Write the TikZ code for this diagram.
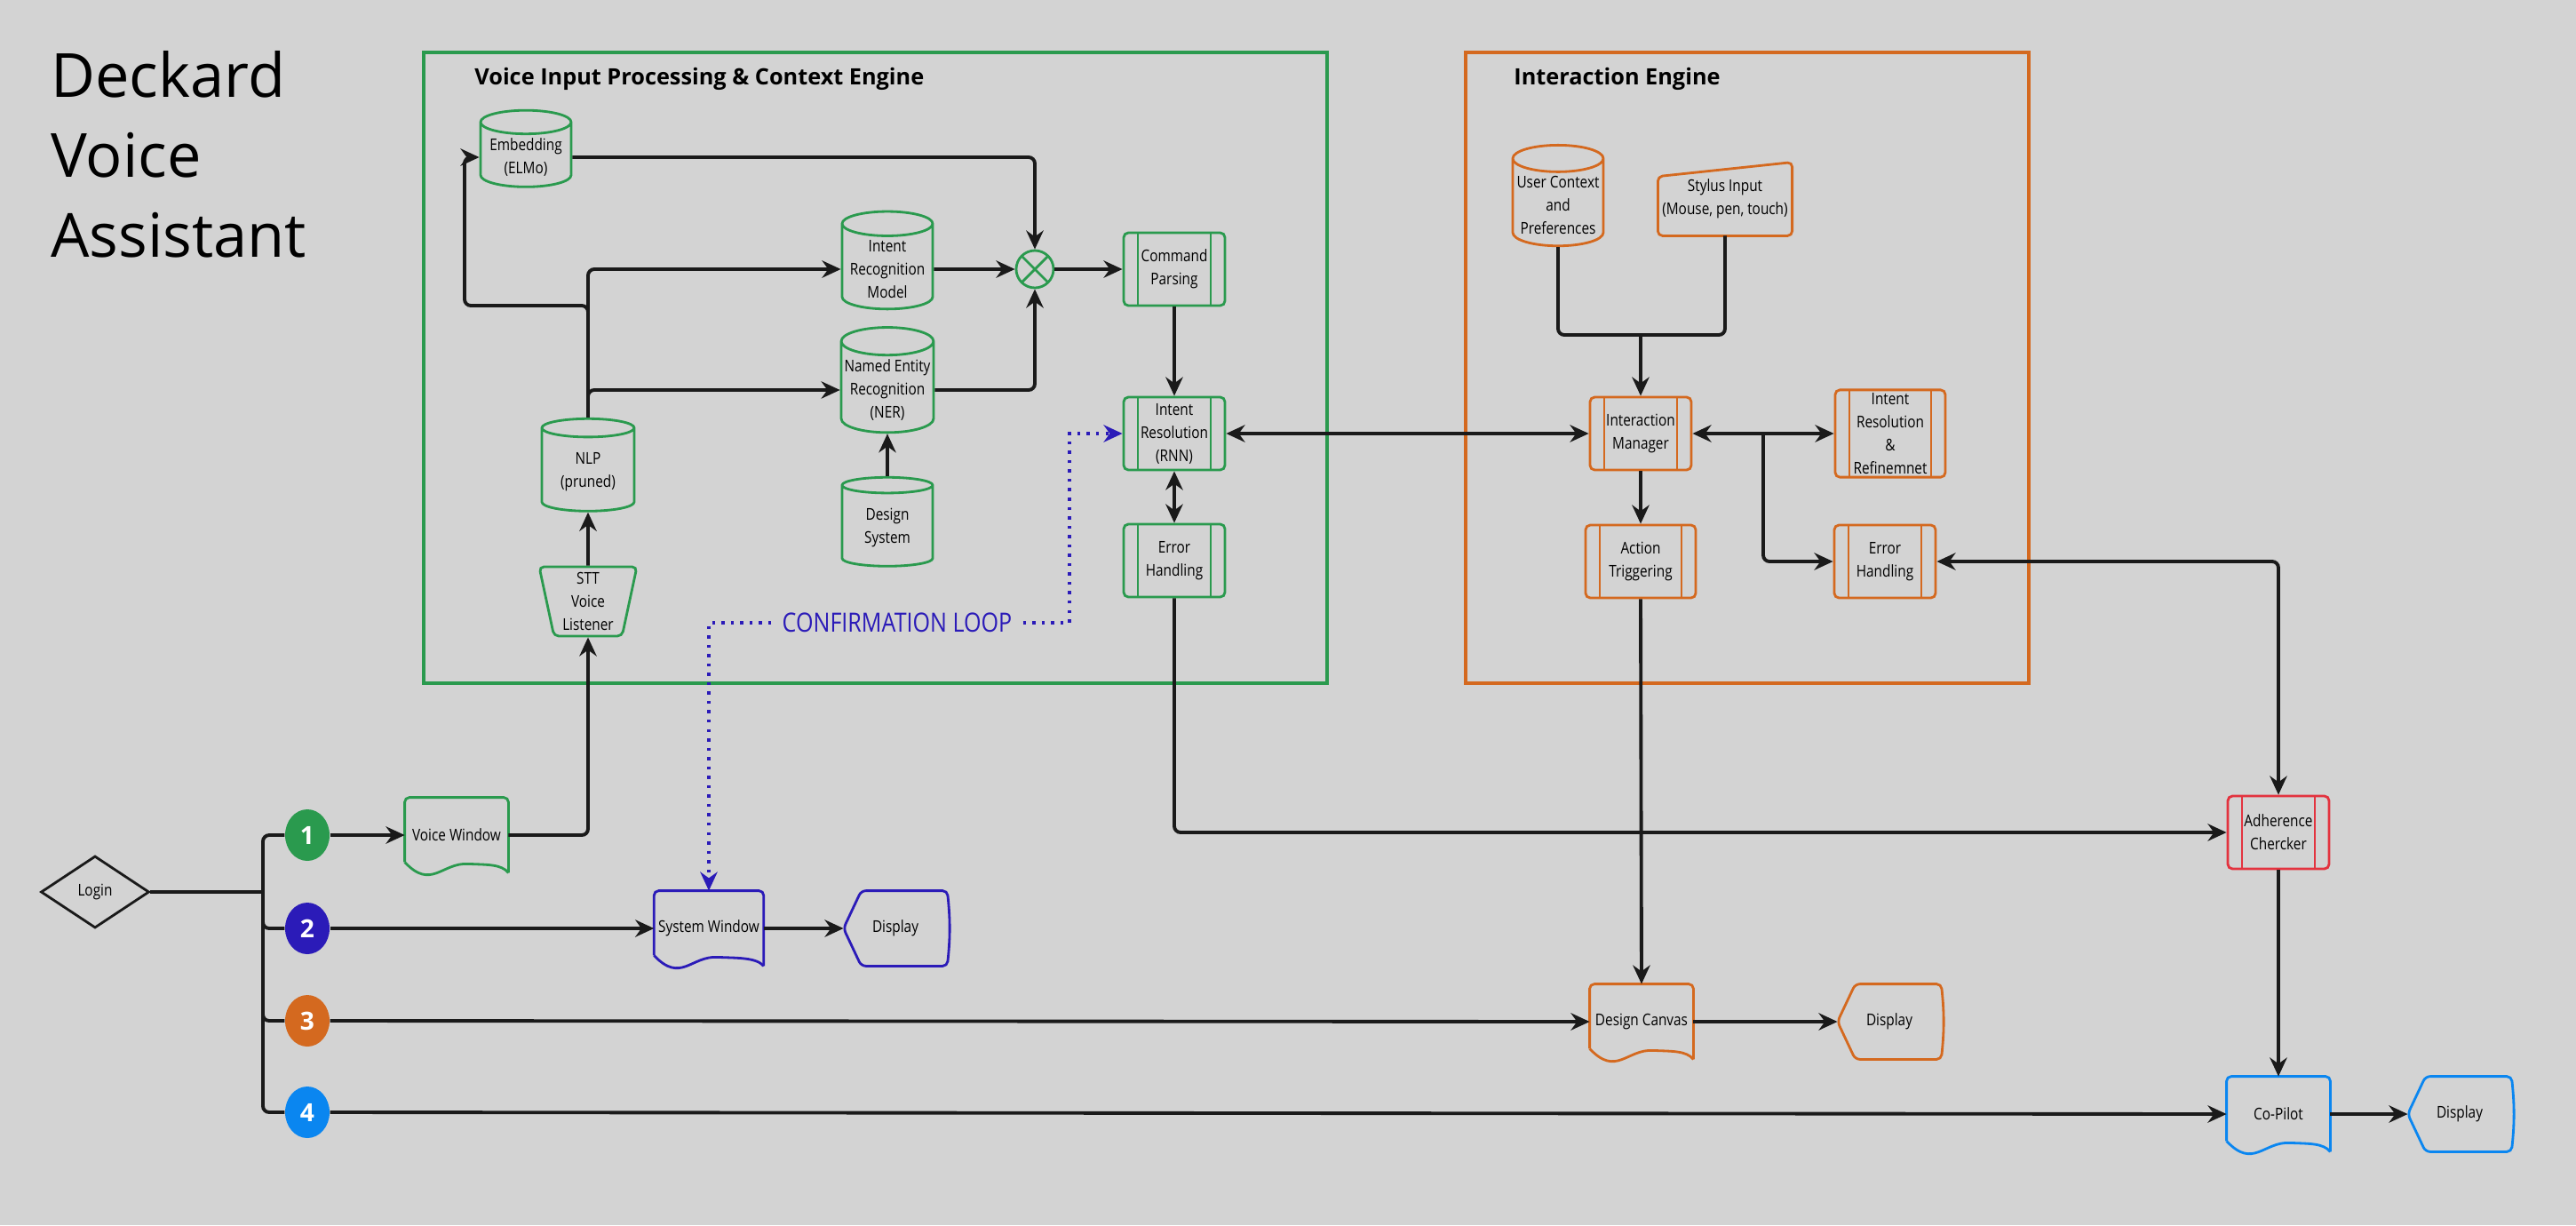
\documentclass[tikz,border=0pt]{standalone}
\usepackage{fontspec}
\setmainfont{Open Sans}
\newfontfamily\cond[FakeStretch=0.84]{Open Sans}
\usetikzlibrary{shapes.geometric,arrows.meta,calc}
\definecolor{bgc}{HTML}{D3D3D3}
\definecolor{grn}{HTML}{2A9A4E}
\definecolor{org}{HTML}{D4691F}
\definecolor{prp}{HTML}{2B1BB8}
\definecolor{lbl}{HTML}{0A86F0}
\definecolor{rd}{HTML}{E3333F}
\definecolor{linec}{HTML}{1A1A1A}
\tikzset{
  base/.style={font=\cond\fontsize{5.2}{7.4}\selectfont, align=center, line width=0.8pt, inner sep=1pt},
  db/.style={base, cylinder, shape border rotate=90, aspect=0.3, draw=#1,
    minimum width=1.02cm, minimum height=0.82cm},
  proc/.style={base, rectangle, rounded corners=1.5pt, draw=#1,
    minimum width=1.14cm, minimum height=0.82cm,
    path picture={\draw[#1, line width=0.8pt]
      ([xshift=0.16cm]path picture bounding box.north west) -- ([xshift=0.16cm]path picture bounding box.south west)
      ([xshift=-0.16cm]path picture bounding box.north east) -- ([xshift=-0.16cm]path picture bounding box.south east);}},
  doc/.style={base, minimum width=1.14cm, minimum height=0.82cm},
  num/.style={ellipse, fill=#1, minimum width=0.5cm, minimum height=0.58cm, inner sep=0pt,
    text=white, font=\fontsize{8}{9}\bfseries},
  line/.style={line width=1.1pt, draw=linec, rounded corners=2pt},
  conn/.style={line, -{Stealth[length=6pt,width=5.5pt]}},
  conn2/.style={line, {Stealth[length=6pt,width=5.5pt]}-{Stealth[length=6pt,width=5.5pt]}},
  head/.style={font=\fontsize{7.2}{9}\bfseries, anchor=west},
}
\newcommand{\docshape}[2]{%
  \draw[#2, line width=0.8pt, rounded corners=1.5pt] (#1.south east) -- (#1.north east) -- (#1.north west)
    -- ([yshift=0.12cm]#1.south west);
  \draw[#2, line width=0.8pt] ([yshift=0.12cm]#1.south west) .. controls +(0.3,-0.32) and +(-0.3,0.02)
    .. ([xshift=0.72cm,yshift=0.1cm]#1.south west) .. controls +(0.2,-0.01) and +(-0.08,0.1) .. (#1.south east);}
\newcommand{\dispshape}[2]{%
  \draw[#2, line width=0.8pt, rounded corners=1.5pt] ([xshift=0.2cm]#1.north west) -- (#1.north east)
    to[bend left=6] (#1.south east) -- ([xshift=0.2cm]#1.south west) -- (#1.west) -- cycle;}
\begin{document}
\begin{tikzpicture}
  \fill[bgc] (0,0) rectangle (29,-13.79);
  %% Title
  \node[anchor=west, align=left, font=\fontsize{19.5}{25.6}\selectfont] at (0.45,-1.74) {Deckard\\Voice\\Assistant};
  %% Frames
  \draw[grn, line width=0.9pt] (4.77,-0.59) rectangle (14.94,-7.69);
  \node[head] at (5.22,-0.89) {Voice Input Processing \& Context Engine};
  \draw[org, line width=0.9pt] (16.50,-0.59) rectangle (22.84,-7.69);
  \node[head] at (16.92,-0.89) {Interaction Engine};
  %% Voice engine
  \node[db=grn, minimum height=0.8cm] (emb) at (5.92,-1.77) {Embedding\\(ELMo)};
  \node[db=grn] (irm) at (9.99,-3.03) {Intent\\Recognition\\Model};
  \node[db=grn, minimum height=1.0cm] (ner) at (9.99,-4.39) {Named Entity\\Recognition\\(NER)};
  \node[db=grn, minimum height=1.0cm] (dsys) at (9.99,-5.94) {Design\\System};
  \node[db=grn, minimum width=1.04cm, minimum height=1.04cm] (nlp) at (6.62,-5.31) {NLP\\(pruned)};
  \node[base, trapezium, trapezium angle=79, trapezium stretches=true, shape border rotate=180,
    draw=grn, rounded corners=1.5pt, minimum width=1.1cm, minimum height=0.78cm] (stt) at (6.62,-6.77) {STT\\Voice\\Listener};
  \node[circle, draw=grn, line width=0.8pt, minimum size=0.42cm,
    path picture={\draw[grn, line width=0.8pt] (path picture bounding box.north west) -- (path picture bounding box.south east)
      (path picture bounding box.north east) -- (path picture bounding box.south west);}] (sum) at (11.65,-3.03) {};
  \node[proc=grn] (cmd) at (13.22,-3.03) {Command\\Parsing};
  \node[proc=grn] (irnn) at (13.22,-4.88) {Intent\\Resolution\\(RNN)};
  \node[proc=grn] (errg) at (13.22,-6.31) {Error\\Handling};
  \node[text=prp, font=\cond\fontsize{8.5}{9}\selectfont] (conf) at (10.10,-7.01) {CONFIRMATION LOOP};
  %% Interaction engine
  \node[db=org, minimum height=0.98cm] (ucp) at (17.54,-2.31) {User Context\\and\\Preferences};
  \node[base, minimum width=1.35cm, minimum height=0.8cm] (sty) at (19.42,-2.24) {Stylus Input\\(Mouse, pen, touch)};
  \draw[org, line width=0.8pt, rounded corners=1.5pt] (sty.south west) -- (sty.south east) -- (sty.north east)
    -- ([yshift=-0.16cm]sty.north west) -- cycle;
  \node[proc=org] (im) at (18.47,-4.88) {Interaction\\Manager};
  \node[proc=org, minimum width=1.24cm] (act) at (18.47,-6.32) {Action\\Triggering};
  \node[proc=org, minimum width=1.24cm] (irr) at (21.28,-4.88) {Intent\\Resolution\\\&\\Refinemnet};
  \node[proc=org] (erro) at (21.22,-6.32) {Error\\Handling};
  \node[proc=rd] (adh) at (25.65,-9.37) {Adherence\\Chercker};
  %% Bottom flows
  \node[base, diamond, draw=linec, aspect=1.5, minimum width=1.22cm, minimum height=0.81cm, inner sep=0pt] (login) at (1.07,-10.04) {Login};
  \node[num=grn] (c1) at (3.46,-9.40) {1};
  \node[num=prp] (c2) at (3.46,-10.45) {2};
  \node[num=org] (c3) at (3.46,-11.49) {3};
  \node[num=lbl] (c4) at (3.46,-12.52) {4};
  \node[doc] (vw) at (5.14,-9.40) {Voice Window};
  \node[doc, minimum width=1.16cm] (sw) at (7.98,-10.45) {System Window};
  \node[doc] (d2) at (10.08,-10.45) {Display};
  \node[doc] (dc) at (18.48,-11.50) {Design Canvas};
  \node[doc] (d3) at (21.27,-11.50) {Display};
  \node[doc] (cop) at (25.65,-12.54) {Co-Pilot};
  \node[doc] (d4) at (27.69,-12.54) {Display};
  \docshape{vw}{grn} \docshape{sw}{prp} \docshape{dc}{org} \docshape{cop}{lbl}
  \dispshape{d2}{prp} \dispshape{d3}{org} \dispshape{d4}{lbl}
  %% Connectors
  \coordinate (embk) at (5.23,-3.44);
  \coordinate (uj) at (18.47,-3.77);
  \coordinate (ij) at (19.85,-4.88);
  \coordinate (br) at (2.96,-10.04);
  \coordinate (lk) at (12.04,-7.01);
  \draw[conn] (vw.east) -| (stt.south);
  \draw[conn] (stt.north) -- (nlp.south);
  \draw[conn] (nlp.north) |- (irm.west);
  \draw[conn] (nlp.north) |- (ner.west);
  \draw[conn] (nlp.north) |- (embk) |- (emb.west);
  \draw[conn] (dsys.north) -- (ner.south);
  \draw[conn] (emb.east) -| (sum.north);
  \draw[conn] (irm.east) -- (sum.west);
  \draw[conn] (ner.east) -| (sum.south);
  \draw[conn] (sum.east) -- (cmd.west);
  \draw[conn] (cmd.south) -- (irnn.north);
  \draw[conn2] (irnn.south) -- (errg.north);
  \draw[conn2] (irnn.east) -- (im.west);
  \draw[line] (ucp.south) |- (uj);
  \draw[line] (sty.south) |- (uj);
  \draw[conn] (uj) -- (im.north);
  \draw[conn] (im.south) -- (act.north);
  \draw[conn2] (im.east) -- (irr.west);
  \draw[conn] (ij) |- (erro.west);
  \draw[conn2] (erro.east) -| (adh.north);
  \draw[conn] (errg.south) |- (adh.west);
  \draw[conn] (act.south) -- (dc.north);
  \draw[conn] (adh.south) -- (cop.north);
  \draw[line] (login.east) -- (br);
  \draw[line] (c1.west) -| (br) |- (c4.west);
  \draw[line] (br) |- (c2.west);
  \draw[line] (br) |- (c3.west);
  \draw[conn] (c1.east) -- (vw.west);
  \draw[conn] (c2.east) -- (sw.west);
  \draw[conn] (c3.east) -- (dc.west);
  \draw[conn] (c4.east) -- (cop.west);
  \draw[conn] (sw.east) -- (d2.west);
  \draw[conn] (dc.east) -- (d3.west);
  \draw[conn] (cop.east) -- (d4.west);
  \draw[prp, line width=1pt, dotted, -{Stealth[length=6pt,width=5.5pt]}] (conf.west) -| (sw.north);
  \draw[prp, line width=1pt, dotted, -{Stealth[length=6pt,width=5.5pt]}] (conf.east) -- (lk) |- (irnn.west);
\end{tikzpicture}
\end{document}
